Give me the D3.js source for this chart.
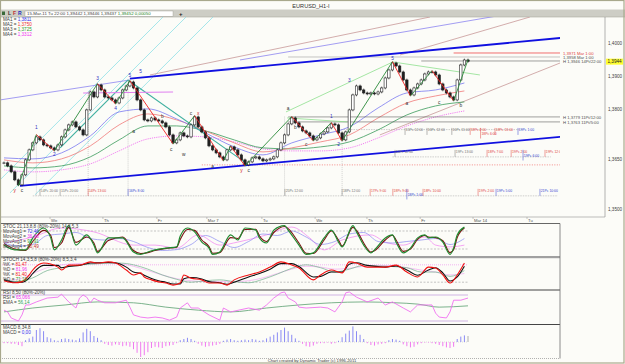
<!DOCTYPE html>
<html>
<head>
<meta charset="utf-8">
<script src="https://cdn.jsdelivr.net/npm/d3@7"></script>
<style>
  body { margin: 0; background: #fcfcf8; }
  svg { display: block; font-family: "Liberation Sans", Arial, sans-serif; }
</style>
</head>
<body>
<svg id="chart" width="625" height="364"></svg>
<script>
// ---- Price data (H1 closes) ----
const closes = [
  1.3640, 1.3631, 1.3613, 1.3589, 1.3574, 1.3604, 1.3649, 1.3679, 1.3700, 1.3718,
  1.3709, 1.3694, 1.3691, 1.3685, 1.3679, 1.3694, 1.3718, 1.3739, 1.3754, 1.3763,
  1.3748, 1.3739, 1.3724, 1.3799, 1.3853, 1.3838, 1.3874, 1.3859, 1.3838, 1.3835,
  1.3829, 1.3820, 1.3835, 1.3859, 1.3871, 1.3883, 1.3865, 1.3829, 1.3799, 1.3769,
  1.3766, 1.3775, 1.3769, 1.3766, 1.3760, 1.3748, 1.3724, 1.3700, 1.3709, 1.3730,
  1.3721, 1.3718, 1.3754, 1.3778, 1.3748, 1.3733, 1.3715, 1.3691, 1.3679, 1.3670,
  1.3658, 1.3649, 1.3679, 1.3688, 1.3679, 1.3664, 1.3649, 1.3634, 1.3643, 1.3655,
  1.3658, 1.3652, 1.3646, 1.3649, 1.3652, 1.3658, 1.3679, 1.3700, 1.3724, 1.3757,
  1.3775, 1.3760, 1.3748, 1.3736, 1.3730, 1.3721, 1.3709, 1.3715, 1.3727, 1.3733,
  1.3745, 1.3757, 1.3754, 1.3730, 1.3709, 1.3733, 1.3799, 1.3844, 1.3871, 1.3859,
  1.3850, 1.3847, 1.3850, 1.3847, 1.3853, 1.3865, 1.3895, 1.3919, 1.3940, 1.3931,
  1.3913, 1.3889, 1.3859, 1.3844, 1.3865, 1.3877, 1.3889, 1.3907, 1.3913, 1.3913,
  1.3904, 1.3877, 1.3859, 1.3850, 1.3838, 1.3829, 1.3889, 1.3934, 1.3949, 1.3945
];
const lastPrice = 1.3944;

// Moving averages (sampled every 8 bars)
const maIdx = [0, 8, 16, 24, 32, 40, 48, 56, 64, 72, 80, 88, 96, 104, 112, 120, 128];
const ma1 = [1.3655, 1.3652, 1.3670, 1.3721, 1.3793, 1.3802, 1.3772, 1.3730, 1.3688, 1.3664, 1.3700, 1.3724, 1.3748, 1.3805, 1.3850, 1.3859, 1.3880];
const ma2 = [1.3649, 1.3640, 1.3652, 1.3691, 1.3754, 1.3787, 1.3769, 1.3736, 1.3700, 1.3673, 1.3685, 1.3703, 1.3724, 1.3775, 1.3820, 1.3841, 1.3856];
const ma3 = [1.3631, 1.3625, 1.3631, 1.3658, 1.3709, 1.3751, 1.3751, 1.3736, 1.3709, 1.3685, 1.3682, 1.3688, 1.3703, 1.3739, 1.3784, 1.3811, 1.3823];
const ma4 = [1.3619, 1.3613, 1.3619, 1.3637, 1.3676, 1.3712, 1.3721, 1.3718, 1.3703, 1.3682, 1.3676, 1.3676, 1.3685, 1.3715, 1.3751, 1.3778, 1.3796];
const maLegend = ['MA1 = ', 'MA2 = ', 'MA3 = ', 'MA4 = '];
const maValues = ['1,3811', '1,3750', '1,3725', '1,3312'];

// Axis ticks
const priceTicks = [1.4000, 1.3900, 1.3800, 1.3650, 1.3500];
const timeIdx = [12.8, 27.5, 42.5, 56.4, 71.7, 86.5, 100.9, 115.7, 130.4, 145.4];
const timeLabels = ['We', 'Th', 'Fr', 'Mar 7', 'Tu', 'We', 'Th', 'Fr', 'Mar 14', 'Tu'];

// Drawn trend lines: [bar index, price] end points
const channelUpper = [[35, 1.3893], [154.6, 1.4015]];
const channelLower = [[4.45, 1.3571], [154.6, 1.3718]];
const cyanFan = [[[-1.1, 1.3589], [44.2, 1.4078]], [[1.67, 1.3550], [50.6, 1.4078]], [[8.6, 1.3544], [58.1, 1.4078]]];
const roseLines = [[[40.6, 1.3904], [118.4, 1.4078]], [[110.1, 1.3964], [146.2, 1.4078]], [[104.5, 1.3724], [154.6, 1.3940]]];
const purpleLines = [[[-1.1, 1.3829], [35, 1.3889]], [[65.6, 1.3949], [137, 1.4081]]];
const tealLines = [[[15.6, 1.3685], [34.5, 1.3889]], [[34.5, 1.3889], [67.6, 1.3637]]];
const limeLines = [[[78.4, 1.3793], [108.1, 1.3943]], [[108.1, 1.3943], [132.3, 1.3904]], [[78.7, 1.3775], [95.4, 1.3763]]];
const pinkLine = [[22, 1.3850], [47, 1.3853]];

// Swing pivots (wave zigzag)
const zigIdx = [4, 9, 14, 26, 31, 35, 47, 53, 61, 63, 67, 80, 86, 91, 94, 108, 113, 119, 125, 129];
const zigPrice = [1.3571, 1.3725, 1.3676, 1.3878, 1.3817, 1.3887, 1.3697, 1.3782, 1.3646, 1.3691, 1.3631, 1.3779, 1.3706, 1.3761, 1.3706, 1.3944, 1.3841, 1.3917, 1.3826, 1.3950];

// Wave labels
const waveIdx = [3, 5, 9, 14, 26, 31, 35, 38, 36, 44, 46.5, 50, 52, 54, 58, 66, 68, 79, 81, 84, 91, 93, 96, 108, 112, 121, 127];
const wavePrice = [1.3556, 1.3556, 1.3748, 1.3664, 1.3895, 1.3805, 1.3904, 1.3916, 1.3736, 1.3781, 1.3679, 1.3664, 1.3790, 1.3790, 1.3628, 1.3616, 1.3616, 1.3805, 1.3748, 1.3694, 1.3781, 1.3694, 1.3889, 1.3955, 1.3820, 1.3823, 1.3814];
const waveText = ['y', 'c', '1', '2', '3', '4', '5', '5', 'a', 'b', 'c', 'w', 'c', 'x', 'a', 'y', 'c', 'a', 'b', 'c', '1', '2', '3', '5', 'a', 'c', 'b'];

// Horizontal price levels
const levelPrice = [1.3970, 1.3958, 1.3946, 1.3778, 1.3763, 1.3634];
const levelFrom = [125, 79, 116, 79, 79, 55];
const levelKind = ['red', 'gray', 'dark', 'dark', 'dark', 'reddot'];
const levelText = ['1,3971 Mar 1:00', '1,3958 Mar 1:00', 'H 1,3946 14Pt/22:00', 'H 1,3779 11Pt/12:00', 'H 1,3763 11Pt/5:00', ''];

// Time targets
const targetIdx = [111.5, 117.6, 124.5, 129.6, 132.5, 136.5, 142.9,
  108.7, 125.4, 134.3, 141, 144.3, 150.4,
  10, 15.6, 23.4, 34.5, 78.1, 94, 101.8, 108.1, 112, 116.5, 131.8, 136.8, 149];
const targetPrice = [1.3736, 1.3736, 1.3736, 1.3736, 1.3736, 1.3736, 1.3736,
  1.3670, 1.3670, 1.3670, 1.3670, 1.3670, 1.3670,
  1.3553, 1.3553, 1.3553, 1.3553, 1.3553, 1.3553, 1.3553, 1.3553, 1.3553, 1.3553, 1.3553, 1.3553, 1.3553];
const targetKind = ['g', 'g', 'g', 'r', 'r', 'r', 'b',
  'g', 'g', 'r', 'r', 'b', 'r',
  'g', 'g', 'r', 'b', 'g', 'g', 'r', 'r', 'b', 'r', 'r', 'b', 'b'];
const targetText = ['15Pc 12:00', '16Pc 12:00', '16Pc 11:00', '18Pc 2:00', '18Pc 6:00', '18Pc 13:00', '19Pc 1:00',
  '15Pc 12:00', '19Pc 13:00', '18Pc 7:00', '19Pc 2:00', '19Pc 6:00', '19Pc 12:00',
  '14Pc 20:00', '15Pc 20:00', '14Pc 13:00', '16Pc 8:00', '25Pc 12:00', '18Pc 12:00', '17Pc 9:00', '18Pc 9:00',
  '18Pc 1:00', '18Pc 10:00', '19Pc 2:00', '19Pc 5:00', '21Pc 10:00'];
const targetRows = [[93, 144, 1.3740], [108, 152, 1.3658], [8, 154, 1.3541]];
const dropIdx = [9, 23.4, 34.5, 78, 94];
const dropPrice = [1.3725, 1.3850, 1.3887, 1.3779, 1.3706];

// STOC panel
const stocIdx = [0, 3, 6, 8, 11, 13, 14, 16, 18, 20, 23, 25, 26, 29, 33, 36, 38, 40, 42, 45, 48, 49, 51, 53, 55, 57, 58, 60, 63, 65, 67, 70, 71, 73, 75, 78, 79, 82, 84, 86, 89, 91, 93, 94, 97, 98, 100, 102, 103, 106, 108, 109, 111, 113, 115, 117, 118, 120, 122, 124, 125, 126, 128];
const stocFast = [33, 17, 17, 57, 90, 57, 17, 50, 98, 33, 67, 33, 7, 57, 57, 10, 2, 10, 17, 23, 27, 63, 90, 77, 43, 23, 2, 10, 67, 50, 90, 83, 57, 40, 83, 98, 83, 33, 2, 7, 57, 83, 43, 27, 98, 77, 33, 7, 17, 57, 67, 43, 7, 23, 57, 67, 57, 60, 43, 2, 23, 67, 93];
const stocSlow = [38, 20, 15, 45, 82, 65, 25, 40, 92, 42, 60, 40, 12, 48, 60, 15, 5, 8, 15, 22, 26, 52, 85, 82, 50, 28, 6, 8, 58, 55, 85, 86, 64, 45, 75, 95, 88, 40, 6, 5, 50, 80, 50, 30, 92, 82, 40, 10, 14, 50, 66, 50, 12, 20, 52, 65, 60, 58, 48, 8, 18, 58, 90];
const coarseIdx = [0, 4, 8, 12, 16, 20, 24, 28, 32, 36, 40, 44, 48, 52, 56, 60, 64, 68, 72, 76, 80, 84, 88, 92, 96, 100, 104, 108, 112, 116, 120, 124, 128];
const stocAvg = [40, 30, 35, 65, 70, 75, 55, 50, 55, 45, 25, 15, 18, 35, 65, 45, 25, 45, 70, 65, 80, 60, 35, 45, 70, 75, 45, 40, 45, 50, 55, 35, 55];
const stocLongIdx = [0, 8, 16, 25, 36, 42, 48, 54, 60, 65, 73, 80, 85, 89, 94, 102, 106, 111, 117, 120, 124, 128];
const stocLong = [40, 60, 90, 77, 33, 33, 23, 67, 33, 43, 67, 93, 57, 17, 50, 67, 43, 33, 60, 33, 27, 33];
const stocLegend = ['MovAvg1 = ', 'MovAvg2 = ', 'MovAvg3 = ', 'MovAvg4 = '];
const stocValues = ['72,46', '36,86', '92,91', '90,49'];

// STOCH panel
const stochIdx = [0, 3, 5, 7, 8, 11, 15, 16, 18, 21, 24, 26, 29, 31, 34, 36, 38, 39, 41, 43, 45, 47, 49, 50, 52, 55, 57, 60, 62, 64, 68, 71, 74, 77, 80, 82, 86, 88, 91, 94, 96, 98, 101, 104, 106, 109, 112, 115, 118, 120, 122, 124, 126, 128];
const stochK = [25, 18, 22, 45, 62, 86, 72, 62, 79, 79, 90, 86, 90, 86, 62, 45, 52, 38, 28, 21, 17, 10, 17, 45, 34, 28, 17, 17, 10, 28, 45, 55, 72, 90, 79, 69, 28, 45, 62, 52, 90, 86, 72, 72, 72, 79, 55, 38, 72, 69, 45, 17, 45, 86];
const stochD = [28, 20, 20, 35, 50, 78, 78, 70, 74, 78, 86, 87, 88, 87, 72, 55, 50, 44, 33, 25, 20, 14, 14, 32, 36, 31, 22, 18, 13, 20, 38, 50, 65, 84, 84, 74, 38, 40, 55, 55, 82, 87, 78, 74, 72, 76, 62, 44, 62, 70, 52, 24, 38, 75];
const stochSig = [30, 22, 35, 60, 70, 78, 82, 85, 86, 80, 65, 45, 30, 20, 25, 28, 22, 18, 30, 48, 68, 80, 70, 55, 65, 78, 76, 74, 70, 55, 55, 40, 60];
const stochSlow = [25, 30, 50, 70, 80, 84, 86, 86, 84, 75, 60, 45, 32, 25, 22, 22, 22, 25, 35, 50, 65, 75, 72, 65, 68, 75, 78, 76, 70, 62, 55, 45, 50];
const stochLegend = ['%K = ', '%D = ', '%K = ', '%D = '];
const stochValues = ['81,47', '81,96', '81,40', '71,16'];

// RSI panel
const rsiIdx = [0, 1, 2, 4, 5, 6, 7, 9, 12, 15, 16, 17, 18, 19, 20, 21, 22, 23, 24, 25, 26, 28, 31, 34, 35, 36, 38, 40, 42, 44, 46, 48, 49, 51, 52, 54, 57, 60, 61, 63, 68, 71, 73, 75, 77, 78, 79, 81, 82, 84, 88, 90, 92, 94, 95, 96, 98, 101, 104, 106, 108, 111, 113, 115, 118, 119, 120, 121, 123, 124, 125, 127, 129];
const rsi = [45, 41, 27, 20, 34, 57, 57, 64, 73, 75, 82, 73, 64, 57, 50, 73, 80, 75, 62, 73, 68, 62, 62, 68, 52, 34, 29, 27, 29, 27, 22, 29, 50, 62, 50, 50, 34, 22, 50, 41, 50, 45, 57, 73, 85, 87, 73, 64, 52, 50, 52, 50, 41, 64, 85, 87, 75, 64, 73, 57, 64, 50, 41, 57, 57, 57, 38, 29, 27, 41, 68, 68, 73];
const emaIdx = [0, 8, 17, 26, 36, 45, 54, 63, 73, 82, 91, 100, 109, 115, 121, 129];
const ema = [41, 50, 57, 64, 62, 52, 45, 41, 50, 57, 62, 64, 62, 59, 52, 55];

// MACD histogram (one value per bar)
const macdHist = [
  -2, -2, -3, -3, -5, -7, 3, 6, 9, 20,
  23, 18, 8, 6, 3, 2, 5, 6, 5, 4,
  3, 6, 16, 22, 18, 10, 7, 3, -3, -5,
  -6, -4, -5, -7, -6, -8, -12, -18, -25, -22,
  -17, -10, -8, -9, -10, -7, -6, -5, -2, 3,
  5, 7, 5, 2, -3, -6, -8, -7, -6, -5,
  -3, 2, 4, 5, 3, 2, 3, 4, 3, 5,
  4, 2, 3, 6, 9, 12, 16, 20, 24, 18,
  12, 6, 2, -3, -7, -8, -6, -3, -2, -2,
  -1, -3, -2, 2, 8, 14, 19, 26, 18, 12,
  5, -2, -5, -6, -4, -3, -2, 3, 5, 4,
  2, -4, -7, -9, -8, -4, -2, -1, -1, -2,
  -3, -5, -7, -9, -10, -8, 5, 9, 11, 10
];

// ---- Layout ----
const svg = d3.select('#chart');
const mainTop = 17, mainBot = 217, plotR = 560, axisX = 605;
const fs = 4.6;

const x = d3.scaleLinear().domain([0, 129]).range([4, 468]);
const y = d3.scaleLinear().domain([1.40, 1.35]).range([43, 209.5]);
const yStoc = d3.scaleLinear().domain([0, 100]).range([255, 225]);
const yStoch = d3.scaleLinear().domain([0, 100]).range([288, 259]);
const yRsi = d3.scaleLinear().domain([20, 80]).range([321, 295]);
const yMacd = d3.scaleLinear().domain([-30, 30]).range([360, 324]);

const defs = svg.append('defs');
const addClip = (id, y0, y1) => defs.append('clipPath').attr('id', id)
  .append('rect').attr('x', 0).attr('y', y0).attr('width', plotR).attr('height', y1 - y0);
addClip('cMain', mainTop, mainBot);
addClip('cStoc', 224, 256);
addClip('cStoch', 258.5, 289);
addClip('cRsi', 291, 323.5);
addClip('cMacd', 325, 358);

// Background
svg.append('rect').attr('width', 625).attr('height', 364).attr('fill', '#fcfcf8');

// Title
svg.append('text').attr('x', 311).attr('y', 7.5).attr('text-anchor', 'middle')
  .attr('font-size', 5.6).attr('fill', '#303030').text('EURUSD_H1-I');

// Toolbar strip
svg.append('rect').attr('x', 0).attr('y', 9.5).attr('width', 625).attr('height', 7.5).attr('fill', '#cdcdc5');
svg.append('line').attr('x1', 0).attr('x2', 625).attr('y1', 17).attr('y2', 17).attr('stroke', '#a8a8a0').attr('stroke-width', 0.6);
svg.append('rect').attr('x', 2).attr('y', 11.5).attr('width', 3).attr('height', 3.5).attr('fill', '#3a6a3a');
[['L', 8, '#303030'], ['F', 13, '#c03030'], ['R', 18, '#2030c0']].forEach(([t, px, col]) => {
  svg.append('text').attr('x', px).attr('y', 15.4).attr('font-size', 5).attr('font-weight', 'bold').attr('fill', col).text(t);
});
svg.append('rect').attr('x', 25).attr('y', 11).attr('width', 148).attr('height', 5.2)
  .attr('fill', '#ffffff').attr('stroke', '#9a9a92').attr('stroke-width', 0.4);
const tb = svg.append('text').attr('x', 27).attr('y', 15.2).attr('font-size', 4.4).attr('fill', '#404040');
tb.append('tspan').text('15-Mar-11 Tu 22:00   1,39442   1,39446   1,39437   ');
tb.append('tspan').attr('fill', '#208020').text('1,39452   0,00050');
svg.append('text').attr('x', 179).attr('y', 15.8).attr('font-size', 6).attr('font-weight', 'bold').attr('fill', '#202020').text('+');

// ---- Main price panel ----
const main = svg.append('g').attr('clip-path', 'url(#cMain)');
const line = (g, pts, color, w, dash) => g.append('path')
  .attr('d', d3.line().x(d => x(d[0])).y(d => y(d[1]))(pts))
  .attr('fill', 'none').attr('stroke', color).attr('stroke-width', w)
  .attr('stroke-dasharray', dash || null);

cyanFan.forEach(l => line(main, l, '#8ee0e6', 0.8));
roseLines.forEach(l => line(main, l, '#c89898', 0.8));
purpleLines.forEach(l => line(main, l, '#8c84f0', 0.8));

// Target rows + drop lines
targetRows.forEach(r => line(main, [[r[0], r[2]], [r[1], r[2]]], '#a0a0a0', 0.5, '1.5,1'));
dropIdx.forEach((k, i) => line(main, [[k, dropPrice[i]], [k, 1.3541]], '#a8a8a8', 0.5, '1,1'));

// Moving averages
const maLine = (vals, color, w, dash) => main.append('path')
  .attr('d', d3.line().curve(d3.curveMonotoneX).x((d, i) => x(maIdx[i])).y(d => y(d))(vals))
  .attr('fill', 'none').attr('stroke', color).attr('stroke-width', w)
  .attr('stroke-dasharray', dash || null);
maLine(ma4, '#f070f0', 0.9, '1.2,1');
maLine(ma3, '#3a9a5a', 0.8);
maLine(ma2, '#f07878', 0.8);
maLine(ma1, '#7a78f0', 0.8);

// Horizontal levels
const levelColor = { red: '#f06060', gray: '#a0a0a0', dark: '#606060', reddot: '#f04040' };
levelPrice.forEach((p, i) => {
  line(main, [[levelFrom[i], p], [160, p]], levelColor[levelKind[i]], levelKind[i] === 'red' ? 0.9 : 0.6,
    levelKind[i] === 'reddot' ? '1,1.5' : null);
  if (levelText[i]) {
    svg.append('text').attr('x', 563).attr('y', y(p) + 1.6).attr('font-size', 4.2)
      .attr('fill', levelKind[i] === 'red' ? '#e04040' : '#505050').text(levelText[i]);
  }
});

// Channel
line(main, channelUpper, '#1010e0', 1.8);
line(main, channelLower, '#1010e0', 1.8);

// Other drawn lines
tealLines.forEach(l => line(main, l, '#40b0a0', 1.1));
limeLines.forEach(l => line(main, l, '#8ee08e', 0.8));
line(main, pinkLine, '#e080f0', 1.1);

// Candles
const bars = closes.map((c, i) => ({ i, o: i === 0 ? c : closes[i - 1], c }));
const wick = 0.0004;
main.selectAll('.wick').data(bars).enter().append('line')
  .attr('x1', d => x(d.i)).attr('x2', d => x(d.i))
  .attr('y1', d => y(Math.max(d.o, d.c) + wick)).attr('y2', d => y(Math.min(d.o, d.c) - wick))
  .attr('stroke', '#202020').attr('stroke-width', 0.7);
main.selectAll('.body').data(bars).enter().append('rect')
  .attr('x', d => x(d.i) - 1.2).attr('width', 2.4)
  .attr('y', d => y(Math.max(d.o, d.c)))
  .attr('height', d => Math.max(0.8, Math.abs(y(d.o) - y(d.c))))
  .attr('fill', d => d.c >= d.o ? '#ffffff' : '#202020')
  .attr('stroke', '#202020').attr('stroke-width', 0.6);

// Wave zigzag
zigIdx.slice(1).forEach((k, j) => {
  const up = zigPrice[j + 1] > zigPrice[j];
  line(main, [[zigIdx[j], zigPrice[j]], [k, zigPrice[j + 1]]], up ? '#2a8a3a' : '#f02020', 0.9);
});

// Wave labels
const waveColor = t => /[0-9]/.test(t) ? '#3030c0' : (t === 'x' || t === 'y') ? '#d02020' : '#303030';
waveText.forEach((t, i) => {
  main.append('text').attr('x', x(waveIdx[i])).attr('y', y(wavePrice[i]) + 1.6)
    .attr('text-anchor', 'middle').attr('font-size', 4.8).attr('fill', waveColor(t)).text(t);
});

// Time targets (text steps down when markers crowd each other)
const tColor = { g: '#707070', r: '#e04040', b: '#3040d0' };
const lastOnRow = {};
targetIdx.forEach((k, i) => {
  const tx = x(k), ty = y(targetPrice[i]);
  const prev = lastOnRow[targetPrice[i]];
  let step = 0;
  if (prev && tx - prev.x < 17) step = prev.step === 0 ? 1 : 0;
  lastOnRow[targetPrice[i]] = { x: tx, step };
  main.append('line').attr('x1', tx).attr('x2', tx).attr('y1', ty - 3).attr('y2', ty + 4 + step * 3.6)
    .attr('stroke', tColor[targetKind[i]]).attr('stroke-width', 0.5);
  main.append('text').attr('x', tx + 0.8).attr('y', ty + step * 3.8).attr('font-size', 3.4)
    .attr('fill', tColor[targetKind[i]]).text(targetText[i]);
});

// MA legend
maLegend.forEach((t, i) => {
  const tt = svg.append('text').attr('x', 3).attr('y', 21 + i * 4.9).attr('font-size', fs).attr('fill', '#404040');
  tt.append('tspan').text(t);
  tt.append('tspan').attr('fill', ['#3030f0', '#f03030', '#30a030', '#f030f0'][i]).text(maValues[i]);
});

// Price axis
svg.append('line').attr('x1', axisX).attr('x2', axisX).attr('y1', mainTop).attr('y2', mainBot)
  .attr('stroke', '#808080').attr('stroke-width', 0.6);
priceTicks.forEach(p => {
  svg.append('text').attr('x', 608).attr('y', y(p) + 1.6).attr('font-size', fs).attr('fill', '#404040')
    .text(d3.format('.4f')(p).replace('.', ','));
});
svg.append('rect').attr('x', 606).attr('y', y(lastPrice) - 3).attr('width', 17).attr('height', 6).attr('fill', '#ffff30');
svg.append('text').attr('x', 607.5).attr('y', y(lastPrice) + 1.6).attr('font-size', fs).attr('fill', '#202020')
  .text(d3.format('.4f')(lastPrice).replace('.', ','));

// Time axis
svg.append('line').attr('x1', 0).attr('x2', axisX).attr('y1', mainBot).attr('y2', mainBot)
  .attr('stroke', '#909090').attr('stroke-width', 0.6);
timeIdx.forEach((k, i) => {
  svg.append('line').attr('x1', x(k)).attr('x2', x(k)).attr('y1', mainBot).attr('y2', mainBot + 2)
    .attr('stroke', '#909090').attr('stroke-width', 0.5);
  svg.append('text').attr('x', x(k) + 1).attr('y', 221.5).attr('font-size', 4.2).attr('fill', '#505050').text(timeLabels[i]);
});

// ---- Indicator panels ----
const panelLine = (g, idx, vals, ys, color, w, curve) => g.append('path')
  .attr('d', d3.line().curve(curve || d3.curveMonotoneX).x((d, i) => x(idx[i])).y(d => ys(d))(vals))
  .attr('fill', 'none').attr('stroke', color).attr('stroke-width', w);
const hLevel = (g, yy, color, dash, w) => g.append('line').attr('x1', 0).attr('x2', 468).attr('y1', yy).attr('y2', yy)
  .attr('stroke', color).attr('stroke-width', w || 0.6).attr('stroke-dasharray', dash);
const legend = (titleY, title, labels, values, colors) => {
  svg.append('text').attr('x', 3).attr('y', titleY).attr('font-size', fs).attr('fill', '#404040').text(title);
  labels.forEach((t, i) => {
    const tt = svg.append('text').attr('x', 3).attr('y', titleY + 5 + i * 5).attr('font-size', fs).attr('fill', '#404040');
    tt.append('tspan').text(t);
    tt.append('tspan').attr('fill', colors[i]).text(values[i]);
  });
};

// Panel frames
const hRule = (yy, color, w) => svg.append('line').attr('x1', 0).attr('x2', plotR).attr('y1', yy).attr('y2', yy)
  .attr('stroke', color).attr('stroke-width', w);
hRule(223.5, '#404040', 0.8);
svg.append('rect').attr('x', 0).attr('y', 256).attr('width', plotR).attr('height', 2.2).attr('fill', '#a0a0a0');
hRule(290, '#303030', 0.9);
hRule(324.5, '#303030', 0.9);
hRule(358.5, '#909090', 0.7).attr('stroke-dasharray', '1,1');
svg.append('line').attr('x1', plotR).attr('x2', plotR).attr('y1', 223.5).attr('y2', 358.5).attr('stroke', '#707070').attr('stroke-width', 0.8);

// STOC
const gStoc = svg.append('g').attr('clip-path', 'url(#cStoc)');
hLevel(gStoc, yStoc(80), '#a0a0a0', '2,1.5');
hLevel(gStoc, yStoc(20), '#a0a0a0', '2,1.5');
panelLine(gStoc, stocLongIdx, stocLong, yStoc, '#f080f0', 0.7);
panelLine(gStoc, coarseIdx, stocAvg, yStoc, '#8888f0', 0.7);
panelLine(gStoc, stocIdx, stocSlow, yStoc, '#7a1010', 1.1);
panelLine(gStoc, stocIdx, stocFast, yStoc, '#208a30', 1.2);
legend(228, 'STOC 21,13,8,8 (80%-20%) 14,8,5,3', stocLegend, stocValues, ['#3030f0', '#f030f0', '#30a030', '#c03030']);

// STOCH
const gStoch = svg.append('g').attr('clip-path', 'url(#cStoch)');
hLevel(gStoch, yStoch(80), '#f0a0f0', '1,1', 0.8);
hLevel(gStoch, yStoch(20), '#a0a0a0', '2,1.5');
panelLine(gStoch, coarseIdx, stochSlow, yStoch, '#f0a8f0', 0.7);
panelLine(gStoch, coarseIdx, stochSig, yStoch, '#80b898', 0.8);
panelLine(gStoch, stochIdx, stochD, yStoch, '#101010', 1.1);
panelLine(gStoch, stochIdx, stochK, yStoch, '#f01010', 1.1);
legend(261, 'STOCH 14,3,5,8 (80%-20%) 8,5,3,4', stochLegend, stochValues, ['#f02020', '#f030f0', '#f02020', '#30a030']);

// RSI
const gRsi = svg.append('g').attr('clip-path', 'url(#cRsi)');
hLevel(gRsi, yRsi(80), '#e6d8ee', null, 2.2);
hLevel(gRsi, yRsi(20), '#e6d8ee', null, 2.2);
panelLine(gRsi, emaIdx, ema, yRsi, '#5aa070', 0.8);
panelLine(gRsi, rsiIdx, rsi, yRsi, '#f070f0', 0.9, d3.curveLinear);
legend(294, 'RSI 8,50 (80%-20%)', ['RSI = ', 'EMA = '], ['65,066', '56,14'], ['#f030f0', '#30a060']);

// MACD
const gMacd = svg.append('g').attr('clip-path', 'url(#cMacd)');
hLevel(gMacd, yMacd(0), '#c0c0c0', '1,1', 0.5);
gMacd.selectAll('.hist').data(macdHist).enter().append('line')
  .attr('x1', (d, i) => x(i)).attr('x2', (d, i) => x(i))
  .attr('y1', yMacd(0)).attr('y2', d => yMacd(d))
  .attr('stroke', (d, i) => i === macdHist.length - 1 ? '#b0b0b0' : d >= 0 ? '#8a8af4' : '#f07af0')
  .attr('stroke-width', 1);
legend(329, 'MACD 8,34,8', ['MACD = '], ['0,00'], ['#3030f0']);

// Footer + outer frame
svg.append('text').attr('x', 312).attr('y', 362).attr('text-anchor', 'middle').attr('font-size', 4.2)
  .attr('fill', '#404040').text('Chart created by Dynamic Trader (c) 1996-2011');
svg.append('rect').attr('x', 0.5).attr('y', 0.5).attr('width', 623.5).attr('height', 362.5)
  .attr('fill', 'none').attr('stroke', '#a8a88c').attr('stroke-width', 1.2);
</script>
</body>
</html>
